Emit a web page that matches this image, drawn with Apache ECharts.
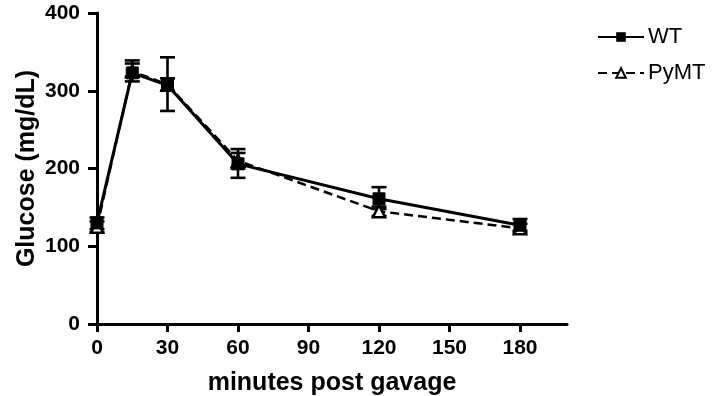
<!DOCTYPE html>
<html><head><meta charset="utf-8">
<script src="https://cdn.jsdelivr.net/npm/echarts@6/dist/echarts.min.js"></script>
<style>html,body{margin:0;padding:0;background:#fff}#c{width:719px;height:396px}</style>
</head><body><div id="c"></div>
<script>
const minutes = [0, 15, 30, 60, 120, 180];
const xTicks = [0, 30, 60, 90, 120, 150, 180];
const wtMean = [130, 323, 307, 206, 161, 127];
const wtLow  = [122, 312, 274, 188, 148, 120];
const wtHigh = [137, 339, 343, 225, 176, 135];
const pymtMean = [125, 325, 308, 210, 145, 123];
const pymtLow  = [118, 318, 300, 200, 139, 117];
const pymtHigh = [132, 335, 316, 220, 151, 129];

const FONT = 'Liberation Sans';
function errSeries(name, low, high) {
  return {
    type: 'custom', name: name + '_err', z: 1,
    data: minutes.map((m, i) => [m, low[i], high[i]]),
    renderItem: function (params, api) {
      const p1 = api.coord([api.value(0), api.value(1)]);
      const p2 = api.coord([api.value(0), api.value(2)]);
      const w = 7.5;
      const st = { stroke: '#000', lineWidth: 2.6 };
      return { type: 'group', children: [
        { type: 'line', shape: { x1: p1[0], y1: p1[1], x2: p2[0], y2: p2[1] }, style: st },
        { type: 'line', shape: { x1: p1[0] - w, y1: p1[1], x2: p1[0] + w, y2: p1[1] }, style: st },
        { type: 'line', shape: { x1: p2[0] - w, y1: p2[1], x2: p2[0] + w, y2: p2[1] }, style: st }
      ]};
    }
  };
}
const chart = echarts.init(document.getElementById('c'));
chart.setOption({
  animation: false,
  grid: { left: 97, top: 13, right: 152, bottom: 72, containLabel: false, outerBoundsMode: 'none' },
  legend: {
    data: ['WT', 'PyMT'], orient: 'vertical', left: 592, top: 21, itemGap: 14,
    itemWidth: 46, itemHeight: 12,
    textStyle: { fontFamily: FONT, fontSize: 22, color: '#000', padding: [0, 0, 0, -1] }
  },
  xAxis: {
    type: 'value', min: 0, max: 200, interval: 30,
    name: 'minutes post gavage', nameLocation: 'middle', nameGap: 47,
    nameTextStyle: { fontFamily: FONT, fontWeight: 'bold', fontSize: 25, color: '#000' },
    axisLine: { lineStyle: { color: '#000', width: 3 } },
    axisTick: { length: 8, lineStyle: { color: '#000', width: 3 }, customValues: xTicks },
    axisLabel: { customValues: xTicks, fontFamily: FONT, fontWeight: 'bold', fontSize: 21, color: '#000', margin: 14 },
    splitLine: { show: false }
  },
  yAxis: {
    type: 'value', min: 0, max: 400, interval: 100,
    name: 'Glucose (mg/dL)', nameLocation: 'middle', nameGap: 57, nameRotate: 90, nameMoveOverlap: false,
    nameTextStyle: { fontFamily: FONT, fontWeight: 'bold', fontSize: 25, color: '#000' },
    axisLine: { lineStyle: { color: '#000', width: 3 } },
    axisTick: { length: 9, lineStyle: { color: '#000', width: 3 } },
    axisLabel: { fontFamily: FONT, fontWeight: 'bold', fontSize: 21, color: '#000', margin: 17 },
    splitLine: { show: false }
  },
  series: [
    errSeries('WT', wtLow, wtHigh),
    errSeries('PyMT', pymtLow, pymtHigh),
    {
      name: 'PyMT', type: 'line', z: 2,
      data: minutes.map((m, i) => [m, pymtMean[i]]),
      symbol: 'triangle', symbolSize: 12,
      itemStyle: { color: '#fff', borderColor: '#000', borderWidth: 2.5 },
      lineStyle: { color: '#000', width: 2.5, type: [9, 5] }
    },
    {
      name: 'WT', type: 'line', z: 3,
      data: minutes.map((m, i) => [m, wtMean[i]]),
      symbol: 'rect', symbolSize: 12,
      itemStyle: { color: '#000', borderColor: '#000' },
      lineStyle: { color: '#000', width: 3 }
    }
  ]
});
</script></body></html>
